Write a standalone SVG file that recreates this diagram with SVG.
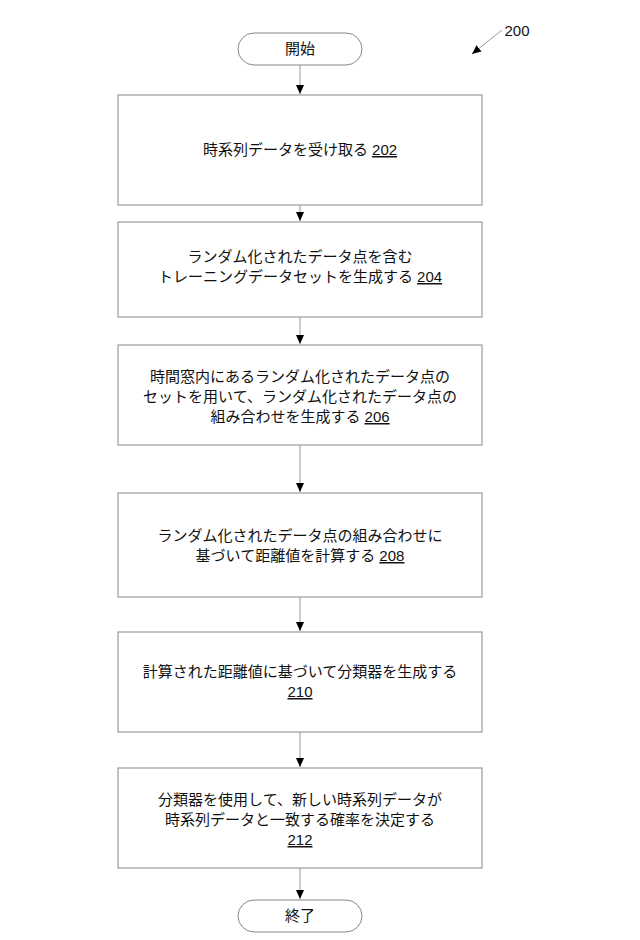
<svg xmlns="http://www.w3.org/2000/svg" width="640" height="940" viewBox="0 0 640 940">
<defs>
<marker id="ah" markerWidth="10" markerHeight="10" refX="9" refY="5" orient="auto" markerUnits="userSpaceOnUse"><path d="M0,1 L9,5 L0,9 z" fill="#000"/></marker>
<style>
.b{fill:#fff;stroke:#888;stroke-width:1}
.t{font-family:"Liberation Sans","Noto Sans CJK JP",sans-serif;font-size:15px;fill:#111;text-anchor:middle}
.c{stroke:#999;stroke-width:1;fill:none}
</style>
</defs>
<g id="connectors">
<line class="c" x1="300" y1="65" x2="300" y2="94" marker-end="url(#ah)"/>
<line class="c" x1="300" y1="205" x2="300" y2="221" marker-end="url(#ah)"/>
<line class="c" x1="300" y1="317" x2="300" y2="344" marker-end="url(#ah)"/>
<line class="c" x1="300" y1="445" x2="300" y2="492" marker-end="url(#ah)"/>
<line class="c" x1="300" y1="597" x2="300" y2="631" marker-end="url(#ah)"/>
<line class="c" x1="300" y1="732" x2="300" y2="767" marker-end="url(#ah)"/>
<line class="c" x1="300" y1="868" x2="300" y2="899" marker-end="url(#ah)"/>
<line class="c" x1="502" y1="30" x2="472" y2="54" marker-end="url(#ah)"/>
</g>
<text class="t" x="517" y="36">200</text>
<g id="start"><rect class="b" x="238" y="33" width="124" height="32" rx="16"/><text class="t" x="300" y="54">開始</text></g>
<g id="n202"><rect class="b" x="118" y="95" width="364" height="110"/><text class="t" x="300" y="155">時系列データを受け取る  <tspan text-decoration="underline">202</tspan></text></g>
<g id="n204"><rect class="b" x="118" y="222" width="364" height="95"/><text class="t" x="300" y="262">ランダム化されたデータ点を含む</text><text class="t" x="300" y="282">トレーニングデータセットを生成する <tspan text-decoration="underline">204</tspan></text></g>
<g id="n206"><rect class="b" x="118" y="345" width="364" height="100"/><text class="t" x="300" y="382">時間窓内にあるランダム化されたデータ点の</text><text class="t" x="300" y="402">セットを用いて、ランダム化されたデータ点の</text><text class="t" x="300" y="422">組み合わせを生成する <tspan text-decoration="underline">206</tspan></text></g>
<g id="n208"><rect class="b" x="118" y="493" width="364" height="104"/><text class="t" x="300" y="541">ランダム化されたデータ点の組み合わせに</text><text class="t" x="300" y="561">基づいて距離値を計算する <tspan text-decoration="underline">208</tspan></text></g>
<g id="n210"><rect class="b" x="118" y="632" width="364" height="100"/><text class="t" x="300" y="677">計算された距離値に基づいて分類器を生成する</text><text class="t" x="300" y="697" text-decoration="underline">210</text></g>
<g id="n212"><rect class="b" x="118" y="768" width="364" height="100"/><text class="t" x="300" y="805">分類器を使用して、新しい時系列データが</text><text class="t" x="300" y="825">時系列データと一致する確率を決定する</text><text class="t" x="300" y="845" text-decoration="underline">212</text></g>
<g id="end"><rect class="b" x="238" y="900" width="124" height="32" rx="16"/><text class="t" x="300" y="921">終了</text></g>
</svg>
